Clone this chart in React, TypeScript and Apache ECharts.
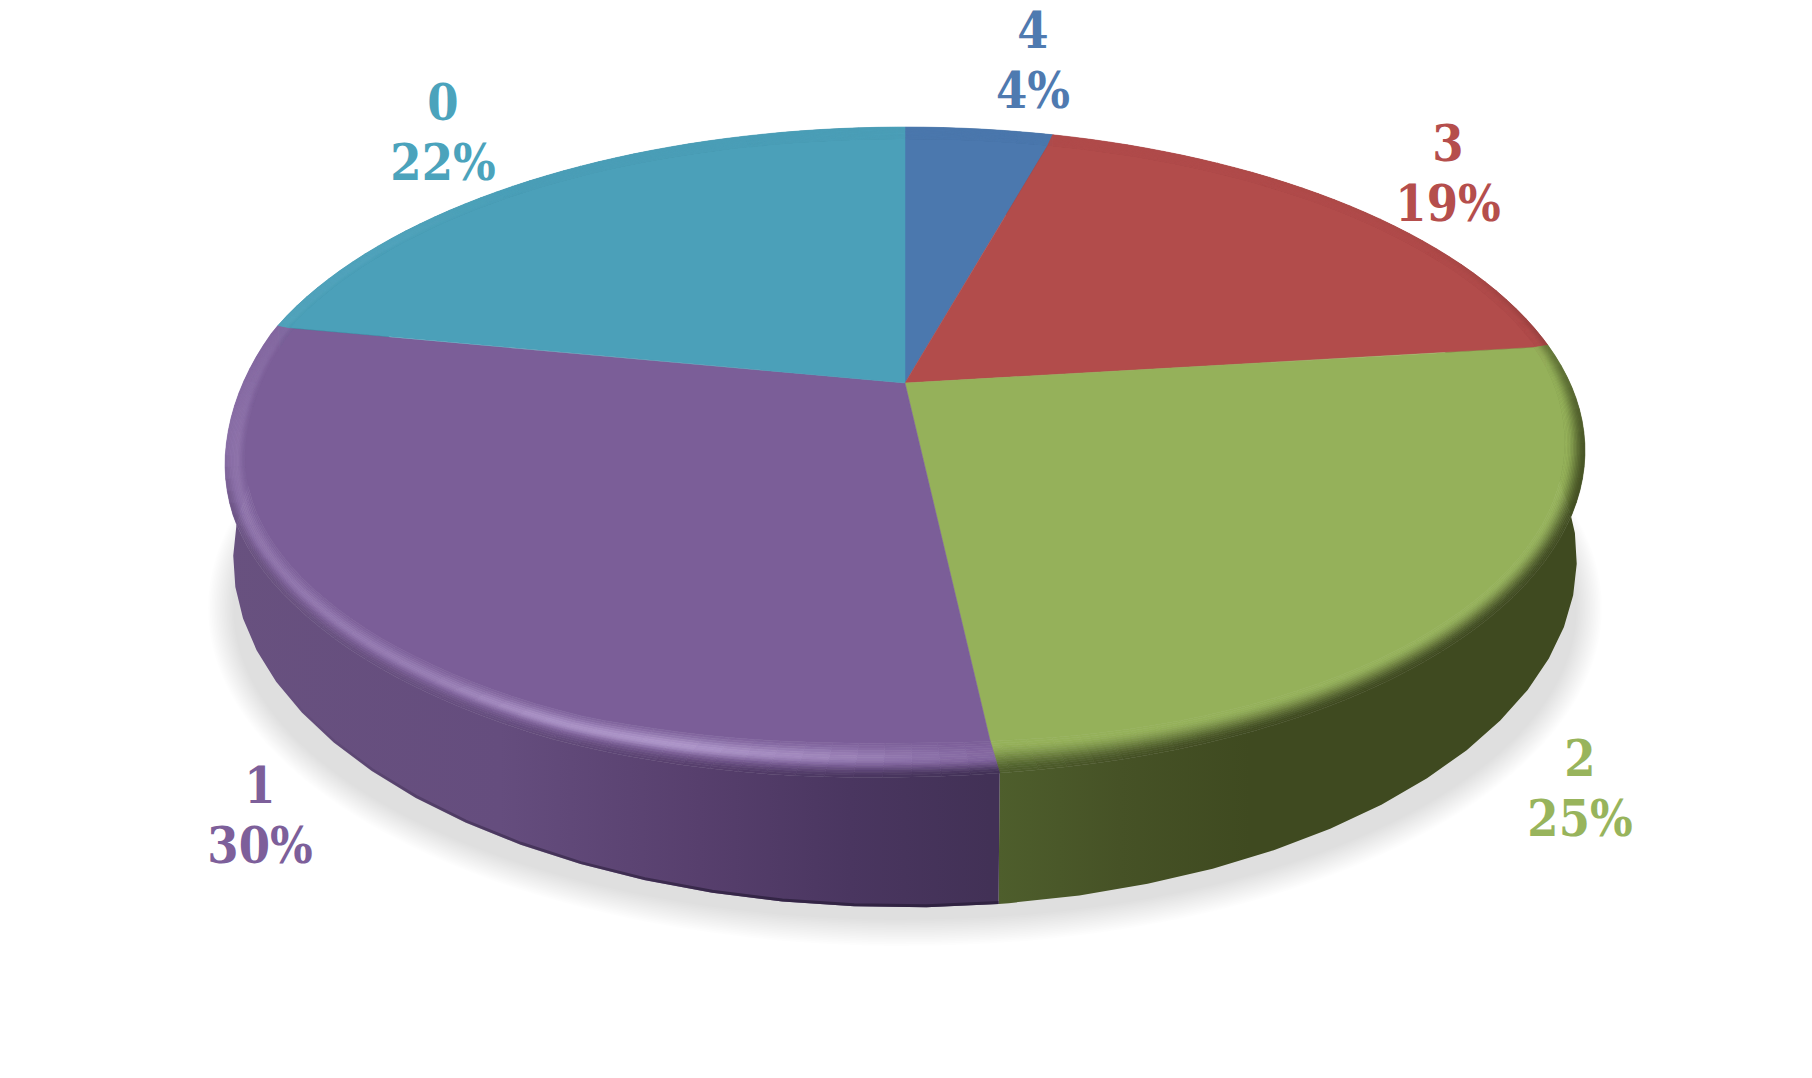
import React, { useEffect, useRef } from "react";
import * as echarts from "echarts";

// ---- data (clockwise from 12 o'clock) ----
const CATEGORIES = ["4", "3", "2", "1", "0"];
const SHARES = [4.3, 18.7, 25.2, 29.9, 21.9];

// ---- styles and layout ----
const TOP_COLORS = ["#4b78ae", "#b24c4b", "#95b15a", "#7b5e98", "#4ba0b9"];
const LABEL_COLORS = ["#4f7ab0", "#b54e4c", "#98b45c", "#7d5f9a", "#4ba3bc"];
const LABEL_POS: number[][] = [[1033, 60], [1448, 173], [1580, 788], [260, 815], [443, 132]];
const WALL_STOPS: [number, string][][] = [
  [[225, "#2f4c72"], [1585, "#2f4c72"]],
  [[225, "#6e2f2e"], [1585, "#6e2f2e"]],
  [[225, "#4e5e2c"], [998, "#4e5e2c"], [1120, "#465226"], [1250, "#3f4a20"], [1585, "#3f4a20"]],
  [[225, "#68517f"], [500, "#654d7e"], [700, "#573f6d"], [850, "#4a3660"], [990, "#423156"], [1585, "#423156"]],
  [[225, "#2f6a7c"], [1585, "#2f6a7c"]],
];
const HIGHLIGHT: number[][][] = [
  [[0, 0], [360, 0]],
  [[0, 0], [360, 0]],
  [[0, 0], [360, 0]],
  [[172, 0.1], [180, 0.4], [187, 0.75], [197, 1], [208, 0.9], [218, 0.55], [240, 0.38], [262, 0.38], [280, 0.22]],
  [[280, 0.12], [300, 0.1], [320, 0]],
];
const HIGHLIGHT_SPREAD: number[][] = [[172, 0.2], [240, 0.2], [250, 0.45], [262, 1.2], [280, 1.2]];
const HIGHLIGHT_COLORS = ["#ffffff", "#ffffff", "#ffffff", "#ad95c9", "#8fd0e2"];
const DARK: number[][][] = [
  [[0, 0], [360, 0]],
  [[15, 0], [60, 0.05], [84, 0.3]],
  [[83, 0.5], [100, 0.85], [120, 1], [175, 1]],
  [[172, 1], [240, 1], [250, 0.7], [255, 0.3], [260, 0]],
  [[0, 0], [360, 0]],
];
const BAND_START = [0.3, 0.3, 0.08, 0.55, 0.3];
const BAND_WIDTH: number[][][] = [
  [[0, 12], [360, 12]],
  [[0, 12], [360, 12]],
  [[84, 14], [100, 20], [130, 28], [150, 33], [175, 33]],
  [[172, 33], [180, 34], [200, 38], [220, 36], [240, 28], [258, 20], [280, 16]],
  [[0, 12], [360, 12]],
];
const RIM_DROP = [
  [100, 0], [150, 3], [172, 2], [180, 3], [193, 8], [205, 12], [233, 12], [250, 15], [262, 13], [280, 0],
];
const EDGE_STOPS: ([number, string][] | null)[] = [
  null,
  null,
  null,
  [[280, "rgba(45,32,62,0)"], [480, "rgba(45,32,62,0.45)"], [760, "rgba(45,32,62,0.8)"], [990, "rgba(45,32,62,0.9)"]],
  null,
];

const K = 0.2087;
const TOP = { cx: 905, cy: 383, A: 665, B: 309.4 };
const BOTTOM = { cx: 905, cy: 486.5, A: 657, B: 333 };
const ELLIPSE_CENTER = [905, 450];
const RINGS = 14;
const STEP = 2;
const WALL_STEP = 5;

const TOTAL = SHARES.reduce((a, b) => a + b, 0);
const rad = (d: number) => (d * Math.PI) / 180;
const project = (p: typeof TOP, deg: number) => {
  const c = Math.cos(rad(deg));
  const s = Math.sin(rad(deg));
  const w = 1 + K * c;
  return [p.cx + (p.A * s) / w, p.cy - (p.B * c) / w];
};
const table = (tb: number[][], x: number) => {
  if (x <= tb[0][0]) return tb[0][1];
  for (let i = 1; i < tb.length; i++) {
    if (x <= tb[i][0]) {
      const t = (x - tb[i - 1][0]) / (tb[i][0] - tb[i - 1][0]);
      return tb[i - 1][1] + (tb[i][1] - tb[i - 1][1]) * t;
    }
  }
  return tb[tb.length - 1][1];
};
const rim = (deg: number) => {
  const q = project(TOP, deg);
  return [q[0], q[1] + table(RIM_DROP, deg)];
};
const inset = (deg: number, d: number) => {
  const q = project(TOP, deg);
  const r = rim(deg);
  const dx = ELLIPSE_CENTER[0] - q[0];
  const dy = ELLIPSE_CENTER[1] - q[1];
  const l = Math.hypot(dx, dy);
  return [r[0] + (dx / l) * d, r[1] + (dy / l) * d];
};
const rangeOf = (i: number) => {
  let acc = 0;
  for (let j = 0; j < i; j++) acc += SHARES[j];
  return [(acc / TOTAL) * 360, ((acc + SHARES[i]) / TOTAL) * 360];
};
const anglesOf = (a: number, b: number, step: number) => {
  const out: number[] = [];
  for (let d = a; d < b; d += step) out.push(d);
  out.push(b);
  return out;
};
const hex = (h: string) => [1, 3, 5].map((n) => parseInt(h.slice(n, n + 2), 16));
const mix = (a: number[], b: number[], t: number) => a.map((v, i) => v + (b[i] - v) * t);
const css = (c: number[]) => `rgb(${c.map((v) => Math.round(v)).join(",")})`;
const smooth = (a: number, b: number, x: number) => {
  const t = Math.max(0, Math.min(1, (x - a) / (b - a)));
  return t * t * (3 - 2 * t);
};
const wallAt = (i: number, x: number) => {
  const st = WALL_STOPS[i];
  if (x <= st[0][0]) return hex(st[0][1]);
  for (let j = 1; j < st.length; j++) {
    if (x <= st[j][0]) return mix(hex(st[j - 1][1]), hex(st[j][1]), (x - st[j - 1][0]) / (st[j][0] - st[j - 1][0]));
  }
  return hex(st[st.length - 1][1]);
};
const bandColor = (i: number, deg: number, f: number) => {
  const base = hex(TOP_COLORS[i]);
  const sigma = f < 0.42 ? 0.28 : table(HIGHLIGHT_SPREAD, deg);
  const h = table(HIGHLIGHT[i], deg) * Math.exp(-Math.pow((f - 0.42) / sigma, 2));
  let c = mix(base, hex(HIGHLIGHT_COLORS[i]), h);
  const dark = table(DARK[i], deg) * smooth(BAND_START[i], 1, f);
  c = mix(c, wallAt(i, project(TOP, deg)[0]), dark);
  return css(c);
};

const seriesData = SHARES.map((v, i) => ({ name: CATEGORIES[i], value: v }));

const renderShadow = () => {
  const children: any[] = [];
  const layers = 16;
  for (let n = 0; n < layers; n++) {
    children.push({
      type: "ellipse",
      shape: { cx: 905, cy: 608, rx: 697 - (n * 25) / (layers - 1), ry: 338 - (n * 26) / (layers - 1) },
      style: { fill: "rgba(0,0,0,0.0075)" },
    });
  }
  return { type: "group", children };
};

const renderWall = (params: any) => {
  const i = params.dataIndex;
  const [a, b] = rangeOf(i);
  const upper = anglesOf(a, b, STEP).map((d) => rim(d));
  const lower = anglesOf(a, b, WALL_STEP).map((d) => project(BOTTOM, d));
  const st = WALL_STOPS[i];
  const x0 = st[0][0];
  const x1 = st[st.length - 1][0];
  const children: any[] = [
    {
      type: "polygon",
      shape: { points: upper.concat(lower.slice().reverse()) },
      style: {
        fill: {
          type: "linear",
          global: true,
          x: x0,
          y: 0,
          x2: x1,
          y2: 0,
          colorStops: st.map(([x, c]) => ({ offset: (x - x0) / (x1 - x0), color: c })),
        },
      },
    },
  ];
  const edge = EDGE_STOPS[i];
  if (edge) {
    const e0 = edge[0][0];
    const e1 = edge[edge.length - 1][0];
    children.push({
      type: "polyline",
      shape: { points: lower.map((p) => [p[0], p[1] - 1.5]) },
      style: {
        fill: "none",
        lineWidth: 3,
        stroke: {
          type: "linear",
          global: true,
          x: e0,
          y: 0,
          x2: e1,
          y2: 0,
          colorStops: edge.map(([x, c]) => ({ offset: (x - e0) / (e1 - e0), color: c })),
        },
      },
    });
  }
  return { type: "group", children };
};

const renderTop = (params: any) => {
  const i = params.dataIndex;
  const [a, b] = rangeOf(i);
  const ang = anglesOf(a, b, STEP);
  const width = (d: number) => table(BAND_WIDTH[i], d);
  const children: any[] = [
    {
      type: "polygon",
      shape: { points: [[TOP.cx, TOP.cy] as number[]].concat(ang.map((d) => inset(d, width(d)))) },
      style: { fill: TOP_COLORS[i], stroke: TOP_COLORS[i], lineWidth: 0.5 },
    },
  ];
  for (let r = 0; r < RINGS; r++) {
    const f0 = r / RINGS;
    const f1 = (r + 1) / RINGS;
    for (let n = 0; n < ang.length - 1; n++) {
      const d0 = ang[n];
      const d1 = ang[n + 1];
      const col = bandColor(i, (d0 + d1) / 2, (f0 + f1) / 2);
      children.push({
        type: "polygon",
        shape: {
          points: [
            inset(d0, width(d0) * (1 - f0)),
            inset(d1, width(d1) * (1 - f0)),
            inset(d1, width(d1) * (1 - f1)),
            inset(d0, width(d0) * (1 - f1)),
          ],
        },
        style: { fill: col, stroke: col, lineWidth: 0.6 },
      });
    }
  }
  return { type: "group", children };
};

const renderLabel = (params: any, api: any) => {
  const i = params.dataIndex;
  const pct = Math.round((api.value(0) / TOTAL) * 100);
  return {
    type: "text",
    x: LABEL_POS[i][0],
    y: LABEL_POS[i][1],
    scaleX: 0.9,
    style: {
      text: `${CATEGORIES[i]}\n${pct}%`,
      fill: LABEL_COLORS[i],
      font: 'bold 50px "DejaVu Serif", serif',
      lineHeight: 60,
      align: "center",
      verticalAlign: "middle",
    },
  };
};

export default function App() {
  const ref = useRef<HTMLDivElement>(null);
  useEffect(() => {
    document.body.style.margin = "0";
    document.body.style.background = "#ffffff";
    const chart = echarts.init(ref.current!, undefined, { renderer: "svg" });
    const base = { type: "custom", coordinateSystem: "none", silent: true, clip: false, data: seriesData };
    chart.setOption({
      animation: false,
      backgroundColor: "#ffffff",
      series: [
        { ...base, name: "shadow", data: [{ name: "shadow", value: TOTAL }], renderItem: renderShadow, z: 1 },
        { ...base, name: "wall", renderItem: renderWall, z: 2 },
        { ...base, name: "top", renderItem: renderTop, z: 3 },
        { ...base, name: "labels", renderItem: renderLabel, z: 4 },
      ],
    });
    return () => chart.dispose();
  }, []);
  return <div ref={ref} style={{ width: 1812, height: 1078 }} />;
}
